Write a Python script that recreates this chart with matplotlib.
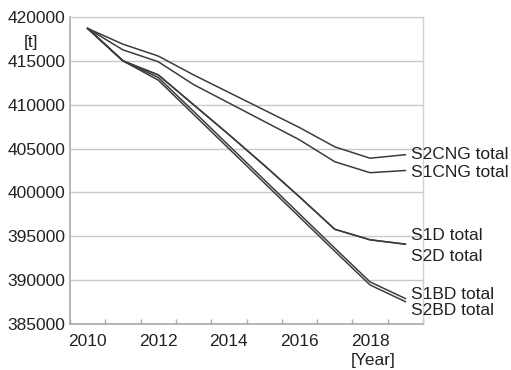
import matplotlib
matplotlib.use("Agg")
import matplotlib.pyplot as plt
import numpy as np

years = list(range(2010, 2020))

s2cng_total = [418700, 416900, 415550, 413400, 411400, 409400, 407400, 405200, 403900, 404300]
s1cng_total = [418700, 416250, 414900, 412300, 410200, 408100, 406000, 403500, 402250, 402500]
s1d_total = [418700, 415000, 413400, 410000, 406600, 403100, 399500, 395800, 394600, 394100]
s2d_total = [418700, 415000, 413400, 410000, 406600, 403100, 399500, 395800, 394600, 394100]
s1bd_total = [418700, 415000, 413100, 409250, 405350, 401450, 397550, 393650, 389800, 387900]
s2bd_total = [418700, 415000, 412800, 408900, 405000, 401100, 397200, 393300, 389450, 387550]

series = [
    ("S2CNG total", s2cng_total, 0),
    ("S1CNG total", s1cng_total, -2),
    ("S1D total", s1d_total, 9),
    ("S2D total", s2d_total, -12),
    ("S1BD total", s1bd_total, 4),
    ("S2BD total", s2bd_total, -9),
]

FS = 12.5
TXT = "#222222"

plt.rcParams["font.family"] = ["Liberation Sans", "DejaVu Sans"]

fig = plt.figure(figsize=(5.11, 3.70), dpi=100)
ax = fig.add_axes([70 / 511, 46 / 370, 353 / 511, 307 / 370])

x = np.arange(len(years))
for name, values, dy in series:
    ax.plot(x, values, color="#3c3c3c", linewidth=1.1)
    ax.annotate(name, xy=(x[-1], values[-1]), xytext=(6, dy),
                textcoords="offset pixels", va="center", ha="left",
                fontsize=FS, color=TXT, annotation_clip=False)

ax.set_xlim(-0.5, len(years) - 0.5)
ax.set_ylim(385000, 420000)
ax.set_yticks(np.arange(385000, 420001, 5000))
ax.set_yticklabels([str(v) for v in range(385000, 420001, 5000)])
ax.set_xticks(x[::2])
ax.set_xticklabels([str(y) for y in years[::2]])
ax.set_xticks(np.arange(-0.5, len(years), 1.0), minor=True)

ax.tick_params(axis="x", which="major", length=0, pad=7, labelsize=FS, labelcolor=TXT)
ax.tick_params(axis="x", which="minor", length=3.5, width=1.0, color="#aaaaaa", direction="in")
ax.tick_params(axis="y", length=0, pad=3.5, labelsize=FS, labelcolor=TXT)

ax.grid(axis="y", color="#c8c8c8", linewidth=1.0)
ax.set_axisbelow(True)
for side in ["left", "bottom"]:
    ax.spines[side].set_color("#aaaaaa")
    ax.spines[side].set_linewidth(1.2)
for side in ["top", "right"]:
    ax.spines[side].set_color("#d0d0d0")
    ax.spines[side].set_linewidth(1.0)

fig.text(31 / 511, 1 - 43 / 370, "[t]", ha="center", va="center", fontsize=FS, color=TXT)
fig.text(373 / 511, 1 - 361 / 370, "[Year]", ha="center", va="center", fontsize=FS, color=TXT)

fig.savefig("out.png", dpi=100, facecolor="white")
plt.close(fig)
